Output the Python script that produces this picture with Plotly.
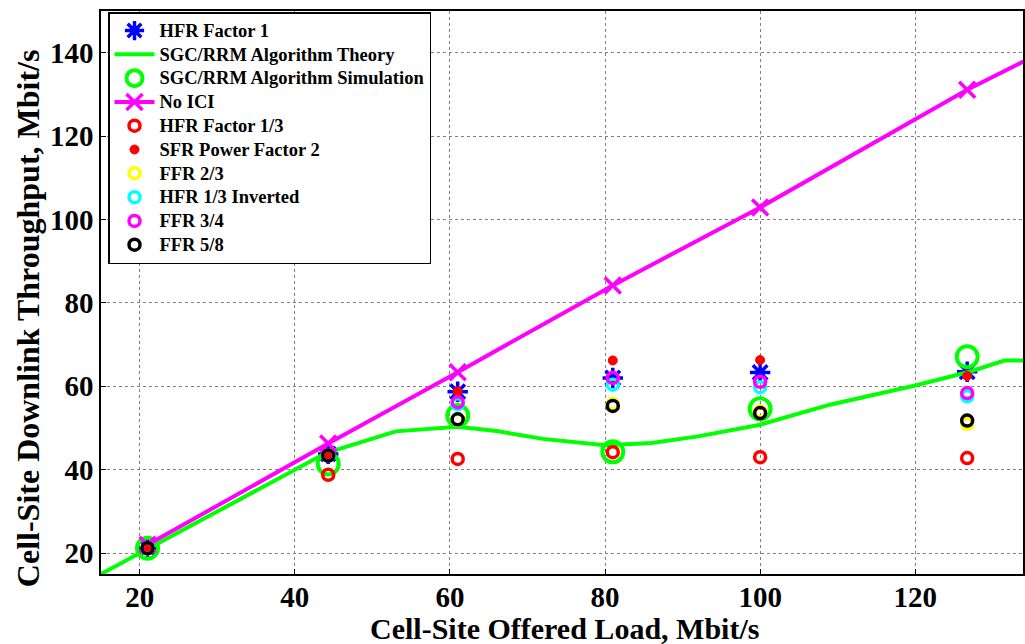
import plotly.graph_objects as go

# ---- data ----
load_x = [21, 44.3, 61, 81, 100, 126.7]

hfr_factor1 = [21.2, 43.8, 58.7, 62.0, 63.3, 63.5]
sgc_sim = [21.2, 41.4, 53.0, 44.3, 54.6, 67.1]
no_ici_x = [21, 44.3, 61, 81, 100, 126.7, 140]
no_ici_y = [22.0, 46.3, 63.4, 84.2, 102.9, 131.1, 143.5]
hfr_13 = [21.2, 38.8, 42.6, 44.2, 43.0, 42.8]
sfr_pf2 = [21.2, 43.6, 58.8, 66.2, 66.3, 62.5]
ffr_23 = [21.2, 43.4, 52.0, 55.8, 54.0, 51.0]
hfr_13_inv = [21.2, 43.4, 55.7, 60.4, 59.8, 57.6]
ffr_34 = [21.2, 43.4, 56.2, 62.0, 61.1, 58.4]
ffr_58 = [21.2, 43.4, 52.1, 55.3, 53.6, 51.8]

theory_x = [15, 21, 44, 53, 61, 66, 72, 80, 86, 92, 100, 109, 120, 127, 131.5, 136]
theory_y = [15, 21, 44, 49.2, 50.3, 49.3, 47.4, 45.9, 46.4, 48.0, 50.8, 55.6, 60.2, 63.5, 66.2, 66.2]

x_ticks = [20, 40, 60, 80, 100, 120]
y_ticks = [20, 40, 60, 80, 100, 120, 140]

FONT = "Liberation Serif, Times New Roman, serif"


def lg(name):
    return '<span style="font-size:18.5px">' + name + '</span>'


fig = go.Figure()


def open_circle(name, y, color, size=11):
    fig.add_trace(go.Scatter(
        x=load_x, y=y, mode="markers", name=lg(name),
        marker=dict(symbol="circle-open", size=size, color=color,
                    line=dict(width=3.5, color=color))))


fig.add_trace(go.Scatter(
    x=load_x, y=hfr_factor1, mode="markers", name=lg("HFR Factor 1"),
    marker=dict(symbol="asterisk-open", size=17, color="#0000FF",
                line=dict(width=3.5, color="#0000FF"))))
fig.add_trace(go.Scatter(
    x=theory_x, y=theory_y, mode="lines", name=lg("SGC/RRM Algorithm Theory"),
    line=dict(color="#00FF00", width=4)))
fig.add_trace(go.Scatter(
    x=load_x, y=sgc_sim, mode="markers", name=lg("SGC/RRM Algorithm Simulation"),
    marker=dict(symbol="circle-open", size=21, color="#00FF00",
                line=dict(width=4, color="#00FF00"))))
fig.add_trace(go.Scatter(
    x=no_ici_x, y=no_ici_y, mode="lines+markers", name=lg("No ICI"),
    line=dict(color="#FF00FF", width=4),
    marker=dict(symbol="x-thin-open", size=16, color="#FF00FF",
                line=dict(width=3.5, color="#FF00FF"))))
open_circle("HFR Factor 1/3", hfr_13, "#FF0000")
fig.add_trace(go.Scatter(
    x=load_x, y=sfr_pf2, mode="markers", name=lg("SFR Power Factor 2"),
    marker=dict(symbol="circle", size=9, color="#FF0000",
                line=dict(width=1, color="#FF0000"))))
open_circle("FFR 2/3", ffr_23, "#FFFF00")
open_circle("HFR 1/3 Inverted", hfr_13_inv, "#00FFFF")
open_circle("FFR 3/4", ffr_34, "#FF00FF")
open_circle("FFR 5/8", ffr_58, "#000000")

axis_common = dict(
    showline=True, linecolor="black", linewidth=1.5, mirror=True,
    showgrid=True, gridcolor="#7f7f7f", gridwidth=1, griddash="dot",
    ticks="inside", ticklen=5, tickcolor="black", zeroline=False,
    tickfont=dict(family=FONT, size=29, color="black", weight="bold"),
)

fig.update_layout(
    width=1025, height=644,
    margin=dict(l=101, r=0, t=11, b=70),
    paper_bgcolor="white", plot_bgcolor="white",
    font=dict(family=FONT, color="black"),
    xaxis=dict(range=[15, 133.9], tickvals=x_ticks, **axis_common),
    yaxis=dict(range=[15, 150], tickvals=y_ticks, **axis_common),
    legend=dict(x=0.0076, y=0.998, xanchor="left", yanchor="top",
                bgcolor="white", bordercolor="black", borderwidth=1.5,
                font=dict(family=FONT, size=16, color="black", weight="bold"),
                itemsizing="trace", itemwidth=40, tracegroupgap=0),
    showlegend=True,
    annotations=[
        dict(text="Cell-Site Downlink Throughput, Mbit/s", textangle=-90,
             xref="paper", yref="paper", x=(28 - 101) / 924, y=(574 - 318) / 563,
             xanchor="center", yanchor="middle", showarrow=False,
             font=dict(family=FONT, size=32, color="black", weight="bold")),
        dict(text="Cell-Site Offered Load, Mbit/s",
             xref="paper", yref="paper", x=(566 - 101) / 924, y=(574 - 628) / 563,
             xanchor="center", yanchor="middle", showarrow=False,
             font=dict(family=FONT, size=30, color="black", weight="bold")),
    ],
)

try:
    fig.update_xaxes(ticklabelstandoff=-4)
except Exception:
    pass

fig.write_html("out.html")
